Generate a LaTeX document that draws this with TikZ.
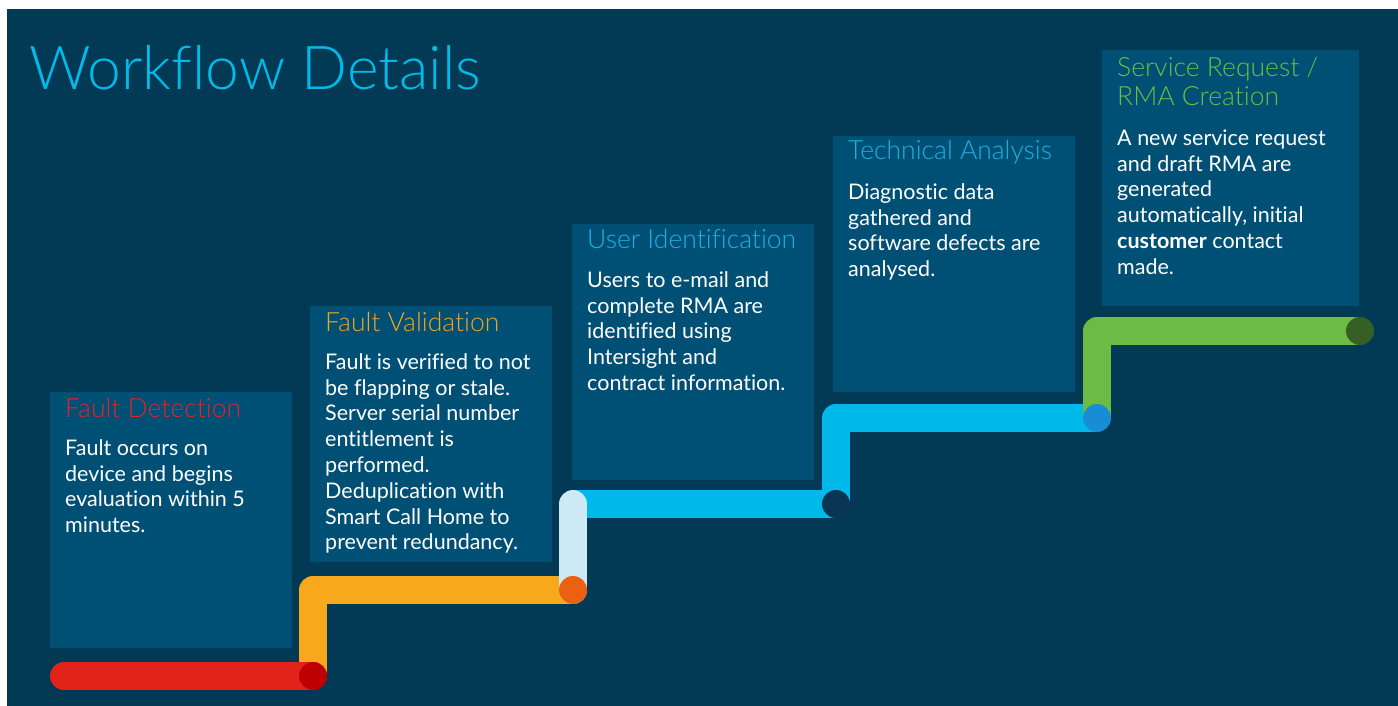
\documentclass[tikz,border=0pt]{standalone}
\usepackage{fontspec}
\setmainfont{Lato}[Ligatures=NoCommon]
\newfontfamily\thinfont{Lato Light}[Ligatures=NoCommon]
\definecolor{bgnavy}{RGB}{2,58,86}
\definecolor{boxblue}{RGB}{0,80,117}
\definecolor{titlecyan}{RGB}{0,186,232}
\definecolor{fdred}{RGB}{222,36,40}
\definecolor{fvorange}{RGB}{242,165,31}
\definecolor{uicyan}{RGB}{29,175,228}
\definecolor{srgreen}{RGB}{109,189,69}
\definecolor{redbar}{RGB}{226,35,26}
\definecolor{redend}{RGB}{190,0,0}
\definecolor{orangebar}{RGB}{247,168,27}
\definecolor{orangeend}{RGB}{236,96,17}
\definecolor{palebar}{RGB}{204,233,245}
\definecolor{cyanbar}{RGB}{0,185,234}
\definecolor{darkend}{RGB}{8,54,82}
\definecolor{blueend}{RGB}{24,141,214}
\definecolor{greenbar}{RGB}{109,187,68}
\definecolor{greenend}{RGB}{53,95,36}
\tikzset{
  stepbox/.style={fill=boxblue, draw=none, anchor=north west, inner sep=0pt,
    minimum width=242pt, minimum height=256pt},
  ttl/.style={anchor=base west, inner sep=0pt, font=\thinfont\fontsize{26.5}{29}\selectfont},
  body/.style={anchor=north west, inner sep=0pt, align=left, text=white,
    font=\fontsize{21.5}{25.8}\selectfont},
  bar/.style={line width=28pt, line join=round},
  dot/.style={circle, minimum size=28pt, inner sep=0pt, draw=none},
}
\newcommand{\fl}{\rule{0pt}{18pt}}
\begin{document}
\begin{tikzpicture}[x=1pt,y=-1pt]
\useasboundingbox (0,0) rectangle (1398,706);
\fill[white] (0,0) rectangle (1398,706);
\fill[bgnavy] (7,9) rectangle (1398,706);

\node[anchor=base west, inner sep=0pt, text=titlecyan,
  font=\thinfont\fontsize{60.5}{70}\selectfont] (title) at (29,90) {Workflow Details};

% boxes
\node[stepbox] (b1) at (50,392) {};
\node[stepbox] (b2) at (310,306) {};
\node[stepbox] (b3) at (572,224) {};
\node[stepbox] (b4) at (833,136) {};
\node[stepbox, minimum width=257pt] (b5) at (1102,50) {};

% titles
\node[ttl, text=fdred] (t1) at (65,417) {Fault Detection};
\node[ttl, text=fvorange] (t2) at (325,331) {Fault Validation};
\node[ttl, text=uicyan] (t3) at (587,248) {User Identification};
\node[ttl, text=uicyan] (t4) at (848,160) {Technical Analysis};
\node[ttl, text=srgreen, anchor=north west, align=left,
  font=\thinfont\fontsize{26.5}{29}\selectfont] (t5) at (1117,57)
  {\rule{0pt}{18pt}Service Request /\\RMA Creation};

% body texts
\node[body] (d1) at (65,437) {\fl Fault occurs on\\device and begins\\evaluation within 5\\minutes.};
\node[body] (d2) at (325,351) {\fl Fault is verified to not\\be flapping or stale.\\Server serial number\\entitlement is\\performed.\\Deduplication with\\Smart Call Home to\\prevent redundancy.};
\node[body] (d3) at (587,269) {\fl Users to e-mail and\\complete RMA are\\identified using\\Intersight and\\contract information.};
\node[body] (d4) at (848,181) {\fl Diagnostic data\\gathered and\\software defects are\\analysed.};
\node[body] (d5) at (1117,127) {\fl A new service request\\and draft RMA are\\generated\\automatically, initial\\\textbf{customer} contact\\made.};

% path points
\coordinate (p0) at (64,676);
\coordinate (p1) at (313,676);
\coordinate (p1u) at (313,590);
\coordinate (p2) at (573,590);
\coordinate (p3) at (573,504);
\coordinate (p4) at (836,504);
\coordinate (p4u) at (836,418);
\coordinate (p5) at (1097,418);
\coordinate (p5u) at (1097,331);
\coordinate (p6) at (1360,331);

% stair line
\draw[bar, orangebar] (p1) -- (p1u) -- (p2);
\draw[bar, redbar, line cap=round] (p0) -- (p1);
\draw[bar, cyanbar] (p3) -- (p4);
\draw[bar, palebar, line cap=round] (p2) -- (p3);
\draw[bar, cyanbar] (p4) -- (p4u) -- (p5);
\draw[bar, greenbar] (p5) -- (p5u) -- (p6);

\node[dot, fill=redend] (e1) at (p1) {};
\node[dot, fill=orangeend] (e2) at (p2) {};
\node[dot, fill=darkend] (e3) at (p4) {};
\node[dot, fill=blueend] (e4) at (p5) {};
\node[dot, fill=greenend] (e5) at (p6) {};
\end{tikzpicture}
\end{document}
